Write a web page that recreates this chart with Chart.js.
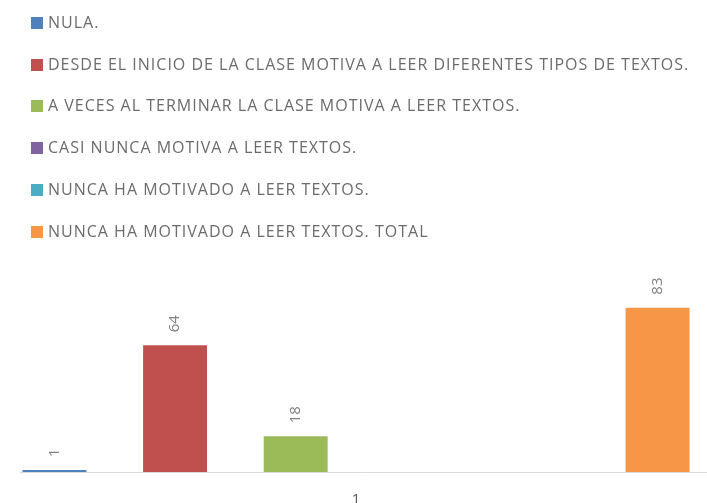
<!DOCTYPE html>
<html>
<head>
<meta charset="utf-8">
<script src="https://cdn.jsdelivr.net/npm/chart.js@4/dist/chart.umd.min.js"></script>
<style>
  html, body { margin: 0; padding: 0; background: #fff; }
  #wrap { position: relative; width: 707px; height: 503px; overflow: hidden; }
  #legend { position: absolute; left: 31px; top: 0; font-family: "Open Sans", sans-serif; font-size: 16px; letter-spacing: 1px; color: #6b6b6b; }
  #legend div { position: absolute; white-space: nowrap; height: 20px; line-height: 20px; }
  #legend span { display: inline-block; width: 12px; height: 12px; margin-right: 5px; vertical-align: -1px; }
</style>
</head>
<body>
<div id="wrap">
  <canvas id="chart" width="707" height="503"></canvas>
  <div id="legend"></div>
</div>
<script>
const categories = ["1"];
const seriesNames = [
  "NULA.",
  "DESDE EL INICIO DE LA CLASE MOTIVA A LEER DIFERENTES TIPOS DE TEXTOS.",
  "A VECES AL TERMINAR LA CLASE MOTIVA A LEER TEXTOS.",
  "CASI NUNCA MOTIVA A LEER TEXTOS.",
  "NUNCA HA MOTIVADO A LEER TEXTOS.",
  "NUNCA HA MOTIVADO A LEER TEXTOS. TOTAL"
];
const seriesValues = [[1], [64], [18], [null], [null], [83]];
const seriesColors = ["#4F81BD", "#C0504D", "#9BBB59", "#8064A2", "#4BACC6", "#F79646"];

// rotated value labels above each bar
const valueLabels = {
  id: "valueLabels",
  afterDatasetsDraw(chart) {
    const ctx = chart.ctx;
    ctx.save();
    ctx.font = "15px 'Open Sans', sans-serif";
    ctx.fillStyle = "#808080";
    ctx.textAlign = "left";
    ctx.textBaseline = "middle";
    chart.data.datasets.forEach((ds, i) => {
      chart.getDatasetMeta(i).data.forEach((bar, j) => {
        const v = ds.data[j];
        if (v === null || v === undefined) return;
        ctx.save();
        ctx.translate(bar.x, bar.y - 13);
        ctx.rotate(-Math.PI / 2);
        ctx.fillText(String(v), 0, 0);
        ctx.restore();
      });
    });
    ctx.restore();
  }
};

// baseline running to the right edge
const baseLine = {
  id: "baseLine",
  beforeDatasetsDraw(chart) {
    const ctx = chart.ctx;
    const y = chart.scales.y.getPixelForValue(0);
    ctx.save();
    ctx.strokeStyle = "#d9d9d9";
    ctx.lineWidth = 1;
    ctx.beginPath();
    ctx.moveTo(chart.chartArea.left, y + 0.5);
    ctx.lineTo(chart.width, y + 0.5);
    ctx.stroke();
    ctx.restore();
  }
};

const chart = new Chart(document.getElementById("chart"), {
  type: "bar",
  data: {
    labels: categories,
    datasets: seriesNames.map((name, i) => ({
      label: name,
      data: seriesValues[i],
      backgroundColor: seriesColors[i],
      categoryPercentage: 1.077,
      barPercentage: 0.53
    }))
  },
  options: {
    responsive: false,
    animation: false,
    layout: { padding: { left: 20, right: 15, top: 274, bottom: 0 } },
    plugins: {
      legend: { display: false },
      tooltip: { enabled: false }
    },
    scales: {
      x: {
        grid: { display: false, drawTicks: false },
        border: { display: false },
        ticks: { color: "#595959", padding: 19, font: { family: "'Open Sans', sans-serif", size: 15 } },
        afterFit(scale) { scale.height = 31; }
      },
      y: {
        display: false,
        min: 0,
        max: 100
      }
    }
  },
  plugins: [valueLabels, baseLine]
});

// legend built from the datasets, one item per row
const legend = document.getElementById("legend");
const rowCenters = [22, 64, 105, 147, 189, 231];
chart.data.datasets.forEach((ds, i) => {
  const row = document.createElement("div");
  row.style.top = (rowCenters[i] - 10) + "px";
  row.innerHTML = '<span style="background:' + ds.backgroundColor + '"></span>' + ds.label;
  legend.appendChild(row);
});
</script>
</body>
</html>
